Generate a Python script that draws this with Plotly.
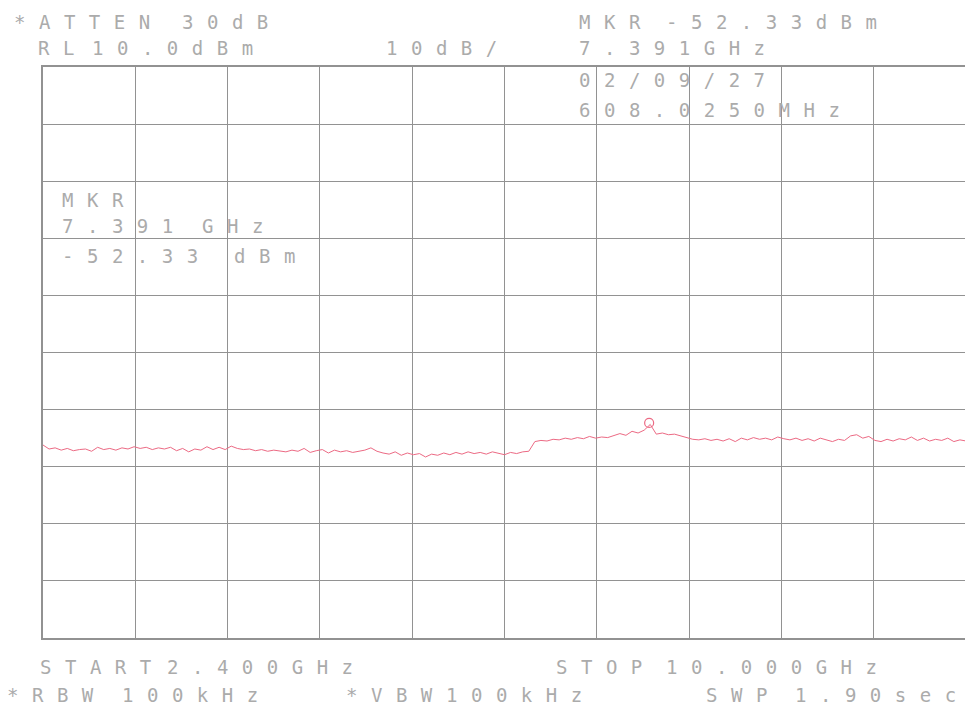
import numpy as np
import plotly.graph_objects as go

# Sweep settings (GHz) and reference level (dBm)
f_start = 2.4
f_stop = 10.0
ref_level = 10.0
db_per_div = 10.0

# Trace values (dBm), one per 50 MHz step from 2.40 to 10.00 GHz
trace_dbm = [
    -56.2, -56.9, -56.7, -57.1, -56.8, -57.2, -57.0, -56.9, -57.3, -56.6,
    -57.0, -56.8, -57.1, -56.7, -56.9, -56.5, -56.8, -56.6, -57.0, -56.7,
    -56.9, -56.6, -57.2, -56.8, -57.4, -56.9, -57.1, -56.5, -57.0, -56.6,
    -57.0, -56.4, -56.8, -57.0, -56.9, -57.2, -57.0, -57.3, -57.1, -57.2,
    -57.4, -57.1, -57.3, -56.8, -57.5, -57.2, -57.0, -57.6, -57.1, -57.4,
    -57.2, -57.5, -57.3, -57.1, -56.7, -57.3, -57.6, -57.8, -57.4, -58.0,
    -57.6, -57.9, -57.7, -58.3, -57.8, -58.0, -57.6, -57.9, -57.5, -57.8,
    -57.4, -57.7, -57.5, -57.8, -57.4, -57.6, -57.9, -57.5, -57.7, -57.4,
    -57.3, -55.6, -55.4, -55.5, -55.2, -55.3, -55.0, -55.2, -54.9, -55.1,
    -54.7, -55.0, -54.8, -54.9, -54.6, -54.2, -54.5, -53.8, -54.1, -53.6,
    -52.6, -54.3, -54.1, -54.4, -54.3, -54.6, -55.0, -55.2, -55.3, -55.1,
    -55.4, -55.2, -55.5, -55.1, -55.6, -55.0, -55.3, -54.9, -55.2, -55.0,
    -55.3, -54.8, -55.1, -55.3, -55.0, -55.4, -55.1, -55.5, -55.0, -55.3,
    -55.6, -55.2, -55.4, -54.6, -54.4, -55.0, -54.7, -55.4, -55.6, -55.2,
    -55.5, -55.1, -55.3, -54.8, -55.4, -55.0, -55.5, -55.2, -55.4, -55.0,
    -55.6, -55.3, -55.5,
]
freq_ghz = np.linspace(f_start, f_stop, len(trace_dbm))

# Marker
marker_freq = [7.391]
marker_dbm = [-52.33]

# Header / footer words: (text, left px, y-centre px) in page pixels
words = [
    ("*ATTEN", 12, 22), ("30dB", 180, 22),
    ("MKR", 578, 22), ("-52.33dBm", 665, 22),
    ("RL", 36, 48), ("10.0dBm", 90, 48), ("10dB/", 385, 48),
    ("7.391GHz", 578, 48),
    ("02/09/27", 578, 80),
    ("608.0250MHz", 578, 110),
    ("MKR", 60, 200),
    ("7.391", 60, 226), ("GHz", 200, 226),
    ("-52.33", 60, 256), ("dBm", 232, 256),
    ("START", 38, 667), ("2.400GHz", 165, 667),
    ("STOP", 555, 667), ("10.000GHz", 665, 667),
    ("*RBW", 5, 695), ("100kHz", 120, 695),
    ("*VBW", 345, 695), ("100kHz", 445, 695),
    ("SWP", 705, 695), ("1.90sec", 795, 695),
]

OFF = 8  # page body margin
W, H = 965, 707
L, R, T, B = 35, 5, 59, 77

fig = go.Figure()
fig.add_trace(go.Scatter(
    x=freq_ghz, y=trace_dbm, mode="lines",
    line=dict(color="#ec6a84", width=1), hoverinfo="skip", showlegend=False,
))
fig.add_trace(go.Scatter(
    x=marker_freq, y=marker_dbm, mode="markers",
    marker=dict(symbol="circle-open", size=9, color="#ec6a84", line=dict(width=1.2)),
    showlegend=False,
))

grid = "#929292"
fig.update_xaxes(
    range=[f_start, f_stop], tick0=f_start, dtick=(f_stop - f_start) / 10,
    showgrid=True, gridcolor=grid, gridwidth=1.3, zeroline=False,
    showticklabels=False, ticks="", showline=True, linecolor=grid, linewidth=1.5, mirror=True,
)
fig.update_yaxes(
    range=[ref_level - 10 * db_per_div, ref_level], tick0=ref_level, dtick=db_per_div,
    showgrid=True, gridcolor=grid, gridwidth=1.3, zeroline=False,
    showticklabels=False, ticks="", showline=True, linecolor=grid, linewidth=1.5, mirror=True,
)

annotations = []
for text, xl, yc in words:
    annotations.append(dict(
        text='<span style="letter-spacing:13.5px">' + text + "</span>",
        xref="paper", yref="paper",
        x=(xl - OFF - L) / (W - L - R), y=1 - (yc - OFF - T) / (H - T - B),
        xanchor="left", yanchor="middle", showarrow=False,
        font=dict(family="DejaVu Sans Mono", size=19, color="#ababab"),
    ))

fig.update_layout(
    width=W, height=H, margin=dict(l=L, r=R, t=T, b=B),
    paper_bgcolor="white", plot_bgcolor="white",
    annotations=annotations, showlegend=False,
)

fig.write_html("out.html", config={"displayModeBar": False})
